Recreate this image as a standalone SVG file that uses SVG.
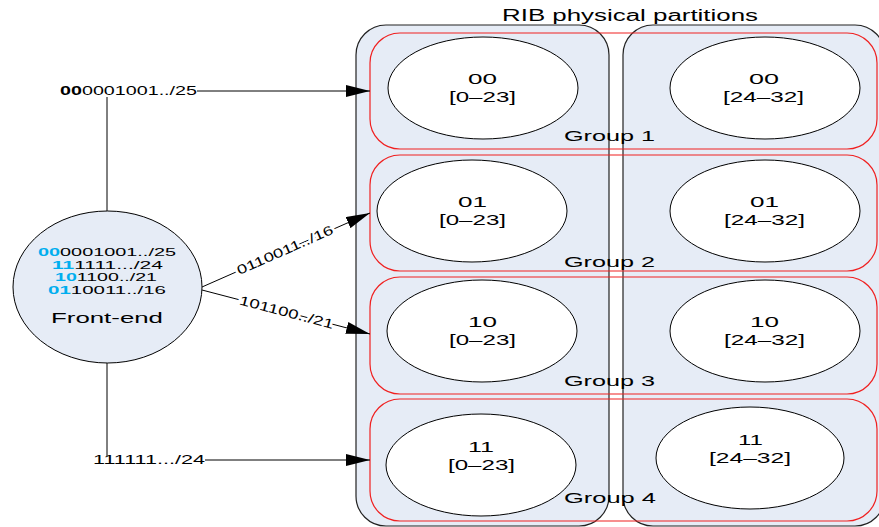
<svg xmlns="http://www.w3.org/2000/svg" width="879" height="527" viewBox="0 0 879 527">
  <style>
    text { font-family: "Liberation Sans", Arial, sans-serif; fill: #000; }
    .col { fill: #E6ECF6; stroke: #222; stroke-width: 1.2; }
    .grp { fill: none; stroke: #F02020; stroke-width: 1.2; }
    .part { fill: #fff; stroke: #000; stroke-width: 1; }
    .fe { fill: #E6ECF6; stroke: #000; stroke-width: 1; }
    .lbl { font-size: 15px; }
    .glbl { font-size: 15px; }
    .prefix { font-size: 11px; }
    .hi { fill: #00AEEF; font-weight: bold; }
    .edge { stroke: #000; stroke-width: 1; fill: none; }
    .elbl { font-size: 13px; paint-order: stroke; stroke: #fff; stroke-width: 4px; }
  </style>
  <defs>
    <marker id="arrow" viewBox="0 0 24 12" refX="24" refY="6" markerWidth="24" markerHeight="12" markerUnits="userSpaceOnUse" orient="auto">
      <path d="M0,0 L24,6 L0,12 Z" fill="#000"/>
    </marker>
  </defs>

  <!-- physical partitions (columns) -->
  <g id="partitions">
    <text x="502" y="21" font-size="16" textLength="256" lengthAdjust="spacingAndGlyphs">RIB physical partitions</text>
    <rect id="partition-left" class="col" x="356" y="25" width="253" height="501" rx="30" ry="30"/>
    <rect id="partition-right" class="col" x="623" y="25" width="262" height="501" rx="30" ry="30"/>
  </g>

  <!-- prefix groups -->
  <g id="group1">
    <rect class="grp" x="370" y="33" width="507" height="116" rx="30" ry="30"/>
    <text class="glbl" x="564" y="141" textLength="91" lengthAdjust="spacingAndGlyphs">Group 1</text>
  </g>
  <g id="group2">
    <rect class="grp" x="370" y="155" width="507" height="116" rx="30" ry="30"/>
    <text class="glbl" x="564" y="267" textLength="91" lengthAdjust="spacingAndGlyphs">Group 2</text>
  </g>
  <g id="group3">
    <rect class="grp" x="370" y="277" width="507" height="117" rx="30" ry="30"/>
    <text class="glbl" x="564" y="386" textLength="91" lengthAdjust="spacingAndGlyphs">Group 3</text>
  </g>
  <g id="group4">
    <rect class="grp" x="370" y="399" width="507" height="122" rx="30" ry="30"/>
    <text class="glbl" x="564" y="503" textLength="92" lengthAdjust="spacingAndGlyphs">Group 4</text>
  </g>

  <!-- partition nodes -->
  <g id="p00-low">
    <ellipse class="part" cx="483" cy="88" rx="95" ry="51"/>
    <text class="lbl" x="468" y="84" textLength="29" lengthAdjust="spacingAndGlyphs">00</text>
    <text class="lbl" x="449" y="102" textLength="67" lengthAdjust="spacingAndGlyphs">[0–23]</text>
  </g>
  <g id="p00-high">
    <ellipse class="part" cx="765" cy="88" rx="95" ry="51"/>
    <text class="lbl" x="749" y="84" textLength="30" lengthAdjust="spacingAndGlyphs">00</text>
    <text class="lbl" x="723" y="102" textLength="81" lengthAdjust="spacingAndGlyphs">[24–32]</text>
  </g>
  <g id="p01-low">
    <ellipse class="part" cx="472" cy="211" rx="95" ry="51"/>
    <text class="lbl" x="458" y="207" textLength="29" lengthAdjust="spacingAndGlyphs">01</text>
    <text class="lbl" x="439" y="225" textLength="67" lengthAdjust="spacingAndGlyphs">[0–23]</text>
  </g>
  <g id="p01-high">
    <ellipse class="part" cx="765" cy="211" rx="95" ry="51"/>
    <text class="lbl" x="750" y="207" textLength="29" lengthAdjust="spacingAndGlyphs">01</text>
    <text class="lbl" x="724" y="225" textLength="81" lengthAdjust="spacingAndGlyphs">[24–32]</text>
  </g>
  <g id="p10-low">
    <ellipse class="part" cx="482" cy="331" rx="95" ry="51"/>
    <text class="lbl" x="468" y="327" textLength="29" lengthAdjust="spacingAndGlyphs">10</text>
    <text class="lbl" x="449" y="345" textLength="67" lengthAdjust="spacingAndGlyphs">[0–23]</text>
  </g>
  <g id="p10-high">
    <ellipse class="part" cx="765" cy="331" rx="95" ry="51"/>
    <text class="lbl" x="750" y="327" textLength="29" lengthAdjust="spacingAndGlyphs">10</text>
    <text class="lbl" x="724" y="345" textLength="81" lengthAdjust="spacingAndGlyphs">[24–32]</text>
  </g>
  <g id="p11-low">
    <ellipse class="part" cx="481" cy="465" rx="95" ry="51"/>
    <text class="lbl" x="468" y="452" textLength="26" lengthAdjust="spacingAndGlyphs">11</text>
    <text class="lbl" x="448" y="470" textLength="67" lengthAdjust="spacingAndGlyphs">[0–23]</text>
  </g>
  <g id="p11-high">
    <ellipse class="part" cx="750" cy="458" rx="94" ry="51"/>
    <text class="lbl" x="738" y="445" textLength="25" lengthAdjust="spacingAndGlyphs">11</text>
    <text class="lbl" x="709" y="463" textLength="82" lengthAdjust="spacingAndGlyphs">[24–32]</text>
  </g>

  <!-- front-end node -->
  <g id="front-end">
    <ellipse class="fe" cx="107.5" cy="287" rx="94.5" ry="76"/>
    <text class="prefix" x="38" y="256" textLength="138" lengthAdjust="spacingAndGlyphs"><tspan class="hi">00</tspan>0001001../25</text>
    <text class="prefix" x="52" y="268.5" textLength="111" lengthAdjust="spacingAndGlyphs"><tspan class="hi">11</tspan>1111.../24</text>
    <text class="prefix" x="55" y="281" textLength="102" lengthAdjust="spacingAndGlyphs"><tspan class="hi">10</tspan>1100../21</text>
    <text class="prefix" x="48" y="293.5" textLength="118" lengthAdjust="spacingAndGlyphs"><tspan class="hi">01</tspan>10011../16</text>
    <text x="51" y="323" font-size="15" textLength="112" lengthAdjust="spacingAndGlyphs">Front-end</text>
  </g>

  <!-- connectors -->
  <g id="connectors">
    <line class="edge" x1="107" y1="211" x2="107" y2="97"/>
    <line class="edge" x1="197" y1="91" x2="370" y2="91" marker-end="url(#arrow)"/>
    <text x="60" y="95" font-size="13" textLength="137" lengthAdjust="spacingAndGlyphs"><tspan font-weight="bold">00</tspan>0001001../25</text>

    <line class="edge" x1="107" y1="363" x2="107" y2="456"/>
    <line class="edge" x1="205" y1="460" x2="370" y2="460" marker-end="url(#arrow)"/>
    <text x="93" y="464" font-size="13" textLength="112" lengthAdjust="spacingAndGlyphs">111111.../24</text>

    <line class="edge" x1="202" y1="287" x2="370" y2="213" marker-end="url(#arrow)"/>
    <text class="elbl" transform="translate(285,250) rotate(-23.8)" x="-52" y="4.5" textLength="104" lengthAdjust="spacingAndGlyphs">0110011../16</text>

    <line class="edge" x1="202" y1="290" x2="370" y2="334" marker-end="url(#arrow)"/>
    <text class="elbl" transform="translate(286,312) rotate(14.7)" x="-48" y="4.5" textLength="97" lengthAdjust="spacingAndGlyphs">101100../21</text>
  </g>
</svg>
